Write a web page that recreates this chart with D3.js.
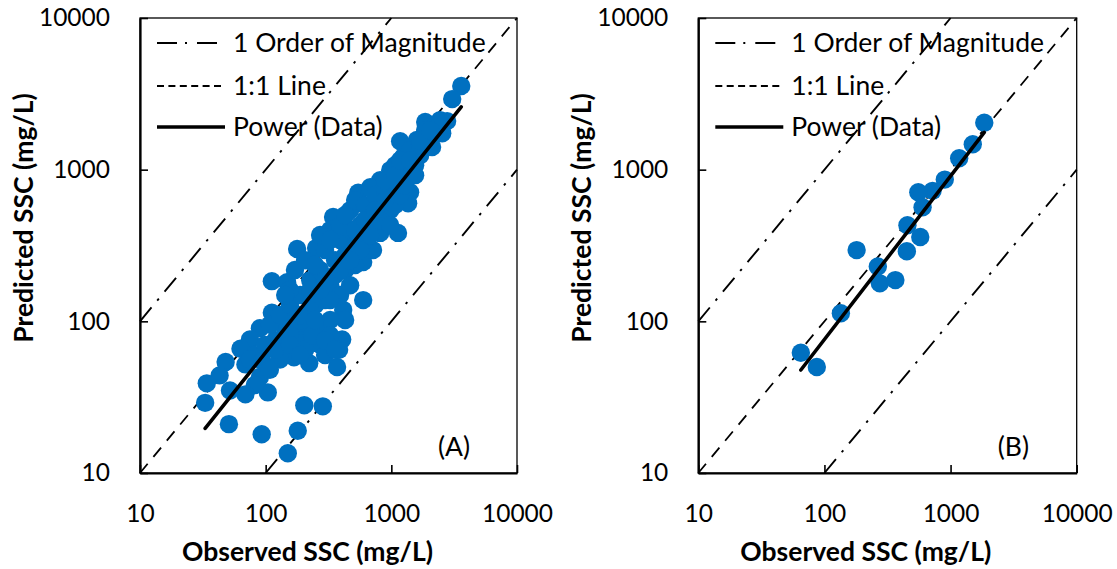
<!DOCTYPE html>
<html><head><meta charset="utf-8">
<script src="https://cdn.jsdelivr.net/npm/d3@7"></script>
<style>
body{margin:0;background:#fff;}
svg{display:block;font-family:Lato,"Open Sans",sans-serif;}
</style></head><body>
<svg id="chart" width="1117" height="569"></svg>
<script>
// ---- data ----
const axisTicks = [10, 100, 1000, 10000];
const obsA = [3600,3050,2780,1860,2540,2110,1600,1175,1240,1360,1410,1360,1130,980,815,545,680,925,344,565,326,178,252,597,112,148,597,414,112,90,75,63,406,48,43,34,33,52,90,104,51,93,150,180,203,285,370,384,222,168,257,978,815,715,
 69,82,99,75,94,119,143,108,130,156,171,206,143,188,226,271,297,247,188,156,226,271,326,357,429,391,470,297,391,470,429,515,565,618,678,743,470,391,515,618,743,893,1072,893,1072,1175,1288,1072,1546,1695,1412,2037,1858,2232,429,326,271,206,130,108,82,69,326,297,234,143,171,206,247,271,326,429,156,119,226,188,326,271,357,515,565,678,815,978,893,1288,1546,1695,2447,
 188,247,297,357,156,188,226,297,391,470,515,618,743,893,1072,1175,1412,1695,2037];
const predA = [3560,2920,2090,2060,1740,1410,1570,1540,1210,890,710,600,383,993,853,705,765,600,487,600,400,300,304,246,184,181,138,119,114,90,76,66,76,54,44,39,29,35,43,34,21,18,13.5,19,28,27.5,50,65,53,58,72,541,383,295,
 52,60,70,56,55,75,88,95,110,128,102,88,70,75,102,95,138,128,149,161,187,218,173,253,218,149,173,295,344,400,273,318,431,344,502,431,541,431,630,584,680,733,791,502,584,680,993,1071,1071,1246,1345,1566,1823,1967,102,102,70,65,56,48,38,33,81,60,81,149,218,253,235,371,344,502,81,65,119,102,138,161,202,235,295,371,465,431,630,791,920,1451,2122,
 110,102,75,65,70,60,161,187,218,253,400,465,541,853,920,1155,1155,1566,1823];
const obsB = [1850,1500,1170,900,720,555,600,455,575,450,180,265,275,365,135,65,87];
const predB = [2040,1470,1190,860,725,710,565,430,360,290,295,230,178,187,113,62,50];
const powerA = [0.519, 1.040];   // y = a * x^b
const powerB = [0.533, 1.077];
const legendLabels = ["1 Order of Magnitude", "1:1 Line", "Power (Data)"];
const panelLabels = ["(A)", "(B)"];
const xTitle = "Observed SSC (mg/L)";
const yTitle = "Predicted SSC (mg/L)";

// ---- drawing ----
const svg = d3.select("#chart");
const plotTop = 18, plotBottom = 473;
const blue = "#0070C0";
const fsTick = 24.5, fsText = 26.5;
const panels = [
  {left: 140, right: 517, obs: obsA, pred: predA, fit: powerA, label: panelLabels[0]},
  {left: 698.3, right: 1076.7, obs: obsB, pred: predB, fit: powerB, label: panelLabels[1]}
];
const dashDot = "18,9,2.5,9", dashed = "12,9";

panels.forEach(p => {
  const x = d3.scaleLog().domain([10, 10000]).range([p.left, p.right]);
  const y = d3.scaleLog().domain([10, 10000]).range([plotBottom, plotTop]);
  const line = d3.line().x(d => x(d[0])).y(d => y(d[1]));
  const g = svg.append("g");

  g.append("rect").attr("x", p.left).attr("y", plotTop)
    .attr("width", p.right - p.left).attr("height", plotBottom - plotTop)
    .attr("fill", "none").attr("stroke", "#000").attr("stroke-width", 1.3);

  // reference lines
  g.append("path").attr("d", line([[10, 100], [1000, 10000]]))
    .attr("fill", "none").attr("stroke", "#000").attr("stroke-width", 1.9).attr("stroke-dasharray", dashDot);
  g.append("path").attr("d", line([[100, 10], [10000, 1000]]))
    .attr("fill", "none").attr("stroke", "#000").attr("stroke-width", 1.9).attr("stroke-dasharray", dashDot);
  g.append("path").attr("d", line([[10, 10], [10000, 10000]]))
    .attr("fill", "none").attr("stroke", "#000").attr("stroke-width", 1.8).attr("stroke-dasharray", dashed);

  // legend
  const lg = g.append("g");
  const rowsY = [43, 86, 127];
  const lx0 = p.left + 17, lx1 = p.left + 85;
  lg.append("line").attr("x1", lx0).attr("x2", lx1).attr("y1", rowsY[0]).attr("y2", rowsY[0])
    .attr("stroke", "#000").attr("stroke-width", 2).attr("stroke-dasharray", "20,8,2,10");
  lg.append("line").attr("x1", lx0).attr("x2", lx1).attr("y1", rowsY[1]).attr("y2", rowsY[1])
    .attr("stroke", "#000").attr("stroke-width", 2).attr("stroke-dasharray", "7,4.4");
  lg.append("line").attr("x1", lx0).attr("x2", lx1).attr("y1", rowsY[2]).attr("y2", rowsY[2])
    .attr("stroke", "#000").attr("stroke-width", 3.5);
  lg.selectAll("text").data(legendLabels).join("text")
    .attr("x", p.left + 93).attr("y", (d, i) => rowsY[i]).attr("dy", "0.34em")
    .attr("font-size", fsText).attr("fill", "#000").text(d => d);

  // points
  g.append("g").selectAll("circle").data(d3.zip(p.obs, p.pred)).join("circle")
    .attr("cx", d => x(d[0])).attr("cy", d => y(d[1])).attr("r", 9.2).attr("fill", blue);

  // power trendline
  const ext = d3.extent(p.obs);
  const fitPts = ext.map(v => [v, p.fit[0] * Math.pow(v, p.fit[1])]);
  g.append("path").attr("d", line(fitPts)).attr("fill", "none")
    .attr("stroke", "#000").attr("stroke-width", 3.6).attr("stroke-linecap", "round");

  // axes
  const ya = d3.axisLeft(y).tickValues(axisTicks).tickFormat(d3.format("d"))
    .tickSizeInner(-8).tickSizeOuter(0).tickPadding(30);
  const yg = g.append("g").attr("transform", `translate(${p.left},0)`).call(ya);
  const xa = d3.axisBottom(x).tickValues(axisTicks).tickFormat(d3.format("d"))
    .tickSizeInner(-8).tickSizeOuter(0).tickPadding(32);
  const xg = g.append("g").attr("transform", `translate(0,${plotBottom})`).call(xa);
  [yg, xg].forEach(a => {
    a.select(".domain").attr("stroke-width", 2.2);
    a.selectAll(".tick line").attr("stroke-width", 1.6);
    a.selectAll("text").attr("font-size", fsTick).attr("font-family", "Lato").attr("fill", "#000");
  });

  // panel label
  g.append("text").attr("x", p.right - 79).attr("y", 456).attr("font-size", fsText).text(p.label);

  // titles
  g.append("text").attr("x", p.left + 167.5).attr("y", 561).attr("text-anchor", "middle")
    .attr("font-size", fsText).attr("font-weight", "bold").text(xTitle);
  g.append("text").attr("transform", `translate(${p.left - 107},218) rotate(-90)`)
    .attr("text-anchor", "middle").attr("font-size", fsText).attr("font-weight", "bold").text(yTitle);
});
</script>
</body></html>
